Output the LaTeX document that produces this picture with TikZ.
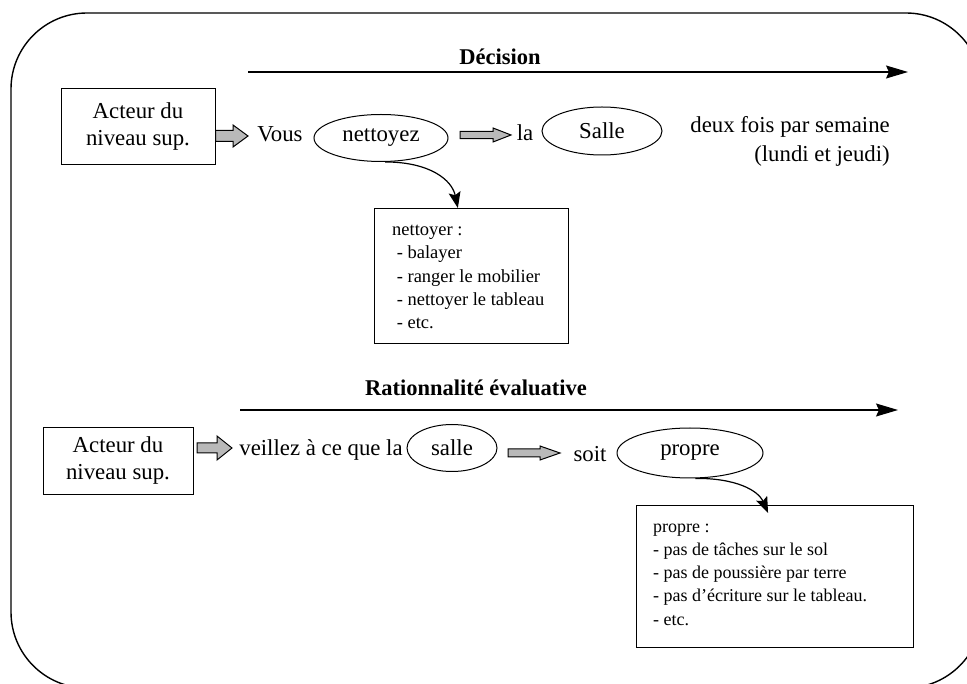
\documentclass[tikz,border=0pt]{standalone}
\usepackage{fontspec}
\setmainfont{Liberation Serif}
\usetikzlibrary{shapes.geometric,arrows.meta,calc}
\newcommand\grayarrow[5]{% start, end, shaft half, head half, head length
  \draw[garrow] ($(#1)+(0,-#3)$) -- ($(#2)+(-#5,-#3)$) -- ($(#2)+(-#5,-#4)$) -- (#2)
    -- ($(#2)+(-#5,#4)$) -- ($(#2)+(-#5,#3)$) -- ($(#1)+(0,#3)$) -- cycle;}
\begin{document}
\begin{tikzpicture}[x=1pt,y=-1pt,
  font=\fontsize{22.8}{27}\selectfont,
  frame/.style={line width=1.4pt, rounded corners=76pt},
  actor/.style={draw, line width=1pt, minimum width=154pt, minimum height=76pt, align=center, inner sep=0pt},
  oval/.style={ellipse, draw, line width=1pt, inner sep=0pt},
  word/.style={inner sep=0pt, anchor=base},
  title/.style={font=\fontsize{22.5}{26}\selectfont\bfseries, inner sep=0pt},
  axis/.style={line width=1.2pt, -{Stealth[length=22pt, width=13pt, inset=3pt]}},
  listbox/.style={draw, line width=1pt, anchor=north west, inner sep=0pt},
  listtext/.style={anchor=west, align=left, inner sep=0pt},
  curvearrow/.style={line width=1.2pt, -{Stealth[length=16pt, width=12pt, inset=3pt]}},
  garrow/.style={draw, line width=1pt, fill=gray!55}
]
\useasboundingbox (0,0) rectangle (967,684);
\clip (0,0) rectangle (967,684);
\draw[frame] (11,13) rectangle (982,688);

% ---------- Décision ----------
\node[title] (t1) at (500,57) {Décision};
\coordinate (a1s) at (248,72);
\coordinate (a1e) at (908,72);
\draw[axis] (a1s) -- (a1e);

\node[actor] (act1) at (138,127) {Acteur du\\niveau sup.};
\node[word] (vous) at (280,142) {Vous};
\node[oval, minimum width=134pt, minimum height=47pt] (net) at (381,138) {nettoyez};
\node[word] (la) at (525,141) {la};
\node[oval, minimum width=120pt, minimum height=48pt] (salle1) at (602,131) {Salle};
\node[inner sep=0pt, align=right, anchor=north east, font=\fontsize{22.8}{29}\selectfont] (freq) at (890,116) {deux fois par semaine\\(lundi et jeudi)};

\coordinate (g1s) at (act1.east |- 0,136);
\coordinate (g1e) at (248,136);
\grayarrow{g1s}{g1e}{5.5}{11}{15}
\coordinate (g2s) at (460,135);
\coordinate (g2e) at (511,135);
\grayarrow{g2s}{g2e}{3.7}{7}{18}

\node[listbox, minimum width=194pt, minimum height=135pt] (nbox) at (374,208) {};
\node[listtext, font=\fontsize{18.5}{23.3}\selectfont] (ntext) at ($(nbox.west)+(18,1)$)
  {nettoyer :\\
   \ - balayer\\
   \ - ranger le mobilier\\
   \ - nettoyer le tableau\\
   \ - etc.};
\coordinate (n1) at ($(nbox.north west)!0.43!(nbox.north east)$);
\draw[curvearrow] (net.-80) .. controls (430,162) and (452,180) .. (n1);

% ---------- Rationnalité évaluative ----------
\node[title] (t2) at (476,388) {Rationnalité évaluative};
\coordinate (a2s) at (240,410);
\coordinate (a2e) at (898,410);
\draw[axis] (a2s) -- (a2e);

\node[actor, minimum width=150pt, minimum height=67pt] (act2) at (118,461) {Acteur du\\niveau sup.};
\node[word] (veil) at (321,456) {veillez à ce que la};
\node[oval, minimum width=90pt, minimum height=47pt] (salle2) at (452,448) {salle};
\node[word] (soit) at (590,462) {soit};
\node[oval, minimum width=146pt, minimum height=50pt] (propre) at (690,453) {propre};

\coordinate (g3s) at (197,448);
\coordinate (g3e) at (232,448);
\grayarrow{g3s}{g3e}{5}{12}{15}
\coordinate (g4s) at (508,453);
\coordinate (g4e) at (560,453);
\grayarrow{g4s}{g4e}{4}{7}{20}

\node[listbox, minimum width=277pt, minimum height=142pt] (pbox) at (636,505) {};
\node[listtext, font=\fontsize{18}{23.3}\selectfont] (ptext) at ($(pbox.west)+(17,-2)$)
  {propre :\\
   - pas de tâches sur le sol\\
   - pas de poussière par terre\\
   - pas d'écriture sur le tableau.\\
   - etc.};
\coordinate (p1) at ($(pbox.north west)!0.475!(pbox.north east)$);
\draw[curvearrow] (propre.-78) .. controls (735,478) and (758,490) .. ($(p1)+(0,8)$);
\end{tikzpicture}
\end{document}
